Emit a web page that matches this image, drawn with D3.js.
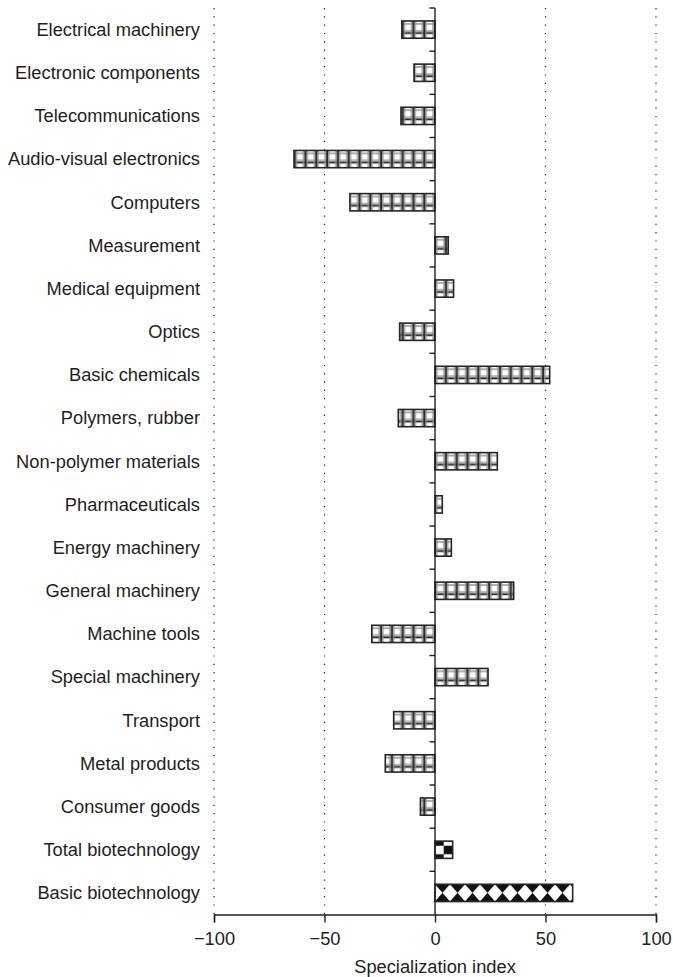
<!DOCTYPE html>
<html>
<head>
<meta charset="utf-8">
<script src="https://cdn.jsdelivr.net/npm/d3@7/dist/d3.min.js"></script>
<style>
  html, body { margin: 0; padding: 0; background: #fff; }
  svg { display: block; }
  text { font-family: "Liberation Sans", Arial, Helvetica, sans-serif; fill: #231f20; }
</style>
</head>
<body>
<div id="chart"></div>
<script>
// ---- data ----
const categories = [
  "Electrical machinery", "Electronic components", "Telecommunications",
  "Audio-visual electronics", "Computers", "Measurement", "Medical equipment",
  "Optics", "Basic chemicals", "Polymers, rubber", "Non-polymer materials",
  "Pharmaceuticals", "Energy machinery", "General machinery", "Machine tools",
  "Special machinery", "Transport", "Metal products", "Consumer goods",
  "Total biotechnology", "Basic biotechnology"
];
const values = [
  -15, -9.5, -15.4, -63.8, -38.5, 6, 8.4, -16, 51.9, -16.6, 28.2,
  3.3, 7.4, 35.6, -28.6, 24, -18.7, -22.5, -6.6, 8, 62.3
];
const patternKinds = [
  "grid","grid","grid","grid","grid","grid","grid","grid","grid","grid","grid",
  "grid","grid","grid","grid","grid","grid","grid","grid","checker","diamond"
];
const xTicks = [-100, -50, 0, 50, 100];
const gridValues = [-100, -50, 50, 100];
const xTitle = "Specialization index";

// ---- layout ----
const W = 673, H = 977;
const svg = d3.select("#chart").append("svg").attr("width", W).attr("height", H);
const ink = "#231f20";

const x = d3.scaleLinear().domain([-100, 100]).range([214, 656]);
const yTop = 8, yBot = 914.5;
const y = d3.scaleBand().domain(categories).range([yTop, yBot])
  .paddingInner(0.6).paddingOuter(0.3);
const step = y.step(), bw = y.bandwidth();
const bandStart = y(categories[0]);
const x0 = x(0);

// ---- patterns ----
const defs = svg.append("defs");
// grid pattern
const cw = 10.8;
const pg = defs.append("pattern").attr("id", "p-grid")
  .attr("patternUnits", "userSpaceOnUse")
  .attr("x", x0).attr("y", bandStart).attr("width", cw).attr("height", step);
pg.append("rect").attr("width", cw).attr("height", step).attr("fill", "#fff");
[[0.17, "#8e8e8e", 1.4], [0.57, "#8e8e8e", 1.2], [0.70, "#262626", 1.9]].forEach(([f, c, w]) => {
  pg.append("rect").attr("x", 0).attr("width", cw).attr("y", f * bw - w / 2).attr("height", w).attr("fill", c);
});
pg.append("rect").attr("x", 1.2).attr("width", 1.3).attr("y", 0).attr("height", step).attr("fill", "#8e8e8e");
pg.append("rect").attr("x", cw - 2.5).attr("width", 1.3).attr("y", 0).attr("height", step).attr("fill", "#8e8e8e");
pg.append("rect").attr("x", 0).attr("width", 1.0).attr("y", 0).attr("height", step).attr("fill", "#262626");
pg.append("rect").attr("x", cw - 0.8).attr("width", 0.8).attr("y", 0).attr("height", step).attr("fill", "#262626");

// checker pattern
const ckw = 17.4;
const pc = defs.append("pattern").attr("id", "p-checker")
  .attr("patternUnits", "userSpaceOnUse")
  .attr("x", x0).attr("y", bandStart).attr("width", ckw).attr("height", step);
pc.append("rect").attr("width", ckw).attr("height", step).attr("fill", "#fff");
pc.append("rect").attr("x", 0).attr("y", 0).attr("width", ckw / 2).attr("height", bw * 0.27).attr("fill", "#111");
pc.append("rect").attr("x", 0).attr("y", bw * 0.76).attr("width", ckw / 2).attr("height", bw * 0.24).attr("fill", "#111");
pc.append("rect").attr("x", ckw / 2).attr("y", bw * 0.27).attr("width", ckw / 2).attr("height", bw * 0.49).attr("fill", "#111");

// diamond / hourglass pattern
const dw = 15;
const pd = defs.append("pattern").attr("id", "p-diamond")
  .attr("patternUnits", "userSpaceOnUse")
  .attr("x", x0).attr("y", bandStart).attr("width", dw).attr("height", step);
pd.append("rect").attr("width", dw).attr("height", step).attr("fill", "#fff");
pd.append("path").attr("fill", "#111")
  .attr("d", `M0,0 L${dw},0 L${dw / 2},${bw / 2} Z M0,${bw} L${dw},${bw} L${dw / 2},${bw / 2} Z`);

// ---- gridlines ----
svg.append("g").selectAll("line").data(gridValues).join("line")
  .attr("x1", d => x(d)).attr("x2", d => x(d))
  .attr("y1", yTop).attr("y2", yBot)
  .attr("stroke", ink).attr("stroke-width", 1.2)
  .attr("stroke-dasharray", "1.2,7.1");

// ---- bars ----
svg.append("g").selectAll("rect").data(categories).join("rect")
  .attr("x", (d, i) => Math.min(x(values[i]), x0))
  .attr("width", (d, i) => Math.abs(x(values[i]) - x0))
  .attr("y", d => y(d))
  .attr("height", bw)
  .attr("fill", (d, i) => `url(#p-${patternKinds[i]})`)
  .attr("stroke", "#262626").attr("stroke-width", 1.6);

// ---- zero line with category ticks ----
svg.append("line").attr("x1", x0).attr("x2", x0).attr("y1", yTop).attr("y2", yBot)
  .attr("stroke", ink).attr("stroke-width", 1.4);
const boundaries = d3.range(categories.length).map(i => yTop + i * step);
svg.append("g").selectAll("line").data(boundaries).join("line")
  .attr("x1", x0 - 5.5).attr("x2", x0).attr("y1", d => d).attr("y2", d => d)
  .attr("stroke", ink).attr("stroke-width", 1.4);

// ---- category labels ----
svg.append("g").selectAll("text").data(categories).join("text")
  .attr("x", 200).attr("y", d => y(d) + bw / 2)
  .attr("dy", "0.35em").attr("text-anchor", "end")
  .attr("font-size", 18.3).text(d => d);

// ---- x axis ----
const xAxis = d3.axisBottom(x).tickValues(xTicks).tickSize(8).tickPadding(10);
const gx = svg.append("g").attr("transform", `translate(0,${yBot})`).call(xAxis);
gx.select(".domain").attr("stroke", ink).attr("stroke-width", 1.4);
gx.selectAll(".tick line").attr("stroke", ink).attr("stroke-width", 1.4);
gx.selectAll(".tick text").attr("font-size", 18.3)
  .attr("font-family", "'Liberation Sans', Arial, sans-serif").attr("fill", ink);

svg.append("text").attr("x", x0).attr("y", 973)
  .attr("text-anchor", "middle").attr("font-size", 18.3).text(xTitle);
</script>
</body>
</html>
